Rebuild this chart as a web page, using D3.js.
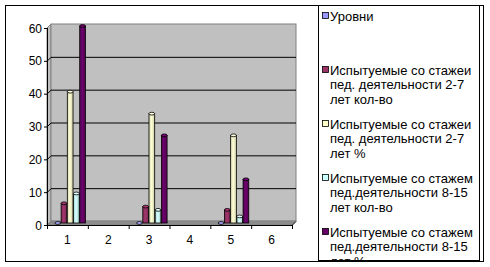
<!DOCTYPE html>
<html><head><meta charset="utf-8">
<script src="https://cdn.jsdelivr.net/npm/d3@7"></script>
<style>body{margin:0;background:#fff}svg{display:block}</style>
</head><body>
<script>
const categories = ["1","2","3","4","5","6"];
const seriesNames = [
  ["Уровни"],
  ["Испытуемые со стажеи","пед. деятельности 2-7","лет кол-во"],
  ["Испытуемые со стажеи","пед. деятельности 2-7","лет %"],
  ["Испытуемые со стажем","пед.деятельности 8-15","лет кол-во"],
  ["Испытуемые со стажем","пед.деятельности 8-15","лет %"]
];
const levels      = [0, null, 0, null, 0, null];
const exp27count  = [6, null, 5, null, 4, null];
const exp27pct    = [40, null, 33.3, null, 26.7, null];
const exp815count = [9, null, 4, null, 2, null];
const exp815pct   = [60, null, 26.7, null, 13.3, null];
const yTicks = [0,10,20,30,40,50,60];
const colors = ["#9999FF","#993366","#FFFFCC","#CCFFFF","#660066"];
const seriesValues = [levels, exp27count, exp27pct, exp815count, exp815pct];

const W=490,H=267;
const svg=d3.select("body").append("svg").attr("width",W).attr("height",H);
const font="'Liberation Sans', Arial, sans-serif";

// frame
svg.append("rect").attr("x",5.5).attr("y",5.5).attr("width",478).attr("height",256)
  .attr("fill","#fff").attr("stroke","#000");

const depth=4;
const left=47,right=292,y0=225,yTop=28;
const x0=d3.scaleBand().domain(categories).range([left,right]).padding(0);
const y=d3.scaleLinear().domain([0,60]).range([y0,yTop]);
const sIdx=d3.range(seriesValues.length);
const x1=d3.scaleBand().domain(sIdx).range([0,x0.bandwidth()]).paddingInner(0).paddingOuter(0.79);

const g=svg.append("g");
// side wall
g.append("path").attr("d",`M${left},${y(60)}L${left+depth},${y(60)-depth}L${left+depth},${y0-depth}L${left},${y0}Z`)
  .attr("fill","#C0C0C0").attr("stroke","#808080");
// back wall
g.append("rect").attr("x",left+depth).attr("y",y(60)-depth).attr("width",right-left).attr("height",y0-y(60))
  .attr("fill","#C0C0C0").attr("stroke","#808080");
// floor
g.append("path").attr("d",`M${left},${y0}L${left+depth},${y0-depth}L${right+depth},${y0-depth}L${right},${y0}Z`)
  .attr("fill","#8c8c8c").attr("stroke","#808080").attr("stroke-width",0.6);
// gridlines
yTicks.filter(t=>t>0&&t<60).forEach(t=>{
  g.append("path").attr("d",`M${left},${y(t)+0.5}L${left+depth},${y(t)-depth+0.5}L${right+depth},${y(t)-depth+0.5}`)
   .attr("fill","none").attr("stroke","#000");
});

// gradients
const defs=svg.append("defs");
colors.forEach((c,i)=>{
  const gr=defs.append("linearGradient").attr("id","gr"+i).attr("x1","0").attr("x2","1").attr("y1","0").attr("y2","0");
  const cc=d3.color(c);
  gr.append("stop").attr("offset","0").attr("stop-color",cc.darker(0.5));
  gr.append("stop").attr("offset","0.45").attr("stop-color",cc.brighter(0.15));
  gr.append("stop").attr("offset","1").attr("stop-color",cc.darker(0.6));
});

// bars (cylinders) at mid depth
const shift=depth/2+1;
const bars=[];
seriesValues.forEach((vals,si)=>{
  vals.forEach((v,ci)=>{ if(v!==null) bars.push({si,ci,v}); });
});
const bw=x1.bandwidth();
const barG=g.append("g");
bars.forEach(b=>{
  const bx=x0(categories[b.ci])+x1(b.si)+shift;
  const yt=y(b.v)-depth/2, yb=y(0)-depth/2;
  if(yb-yt>0.5){
    barG.append("rect").attr("x",bx).attr("y",yt).attr("width",bw-0.5).attr("height",yb-yt)
      .attr("fill",`url(#gr${b.si})`).attr("stroke","#000").attr("stroke-width",0.8);
  }
  barG.append("ellipse").attr("cx",bx+(bw-0.5)/2).attr("cy",yt).attr("rx",(bw-0.5)/2).attr("ry",1.4)
    .attr("fill",d3.color(colors[b.si]).brighter(0.3)).attr("stroke","#000").attr("stroke-width",0.8);
});

// y axis
const ax=svg.append("g").attr("font-family",font).attr("font-size",12);
ax.append("line").attr("x1",left+0.5).attr("x2",left+0.5).attr("y1",y(60)).attr("y2",y0).attr("stroke","#000");
yTicks.forEach(t=>{
  ax.append("line").attr("x1",left-3).attr("x2",left).attr("y1",y(t)+0.5).attr("y2",y(t)+0.5).attr("stroke","#000");
  ax.append("text").attr("x",42).attr("y",y(t)+4.5).attr("text-anchor","end").text(t);
});
// x axis
ax.append("path").attr("d",`M${left},${y0+0.5}L${right},${y0+0.5}L${right+depth},${y0-depth+0.5}`).attr("fill","none").attr("stroke","#000");
categories.forEach((c,i)=>{
  const xs=x0(c);
  ax.append("line").attr("x1",xs+0.5).attr("x2",xs+0.5).attr("y1",y0).attr("y2",y0+4).attr("stroke","#000");
  ax.append("text").attr("x",xs+x0.bandwidth()/2).attr("y",244).attr("text-anchor","middle").text(c);
});
ax.append("line").attr("x1",right+0.5).attr("x2",right+0.5).attr("y1",y0).attr("y2",y0+4).attr("stroke","#000");

// legend
const lg=svg.append("g").attr("font-family",font).attr("font-size",13);
lg.append("rect").attr("x",318.5).attr("y",5.5).attr("width",161).attr("height",255).attr("fill","#fff").attr("stroke","#000");
const clip=defs.append("clipPath").attr("id","lc");
clip.append("rect").attr("x",318).attr("y",6).attr("width",161).attr("height",254);
const lgi=lg.append("g").attr("clip-path","url(#lc)");
seriesNames.forEach((lines,i)=>{
  const cy=16+54*i;
  lgi.append("rect").attr("x",322.5).attr("y",cy-3.5).attr("width",6).attr("height",6)
    .attr("fill",colors[i]).attr("stroke","#000").attr("stroke-width",0.8);
  lines.forEach((ln,j)=>{
    lgi.append("text").attr("x",330).attr("y",cy+4.5+j*14.5).text(ln);
  });
});
</script>
</body></html>
